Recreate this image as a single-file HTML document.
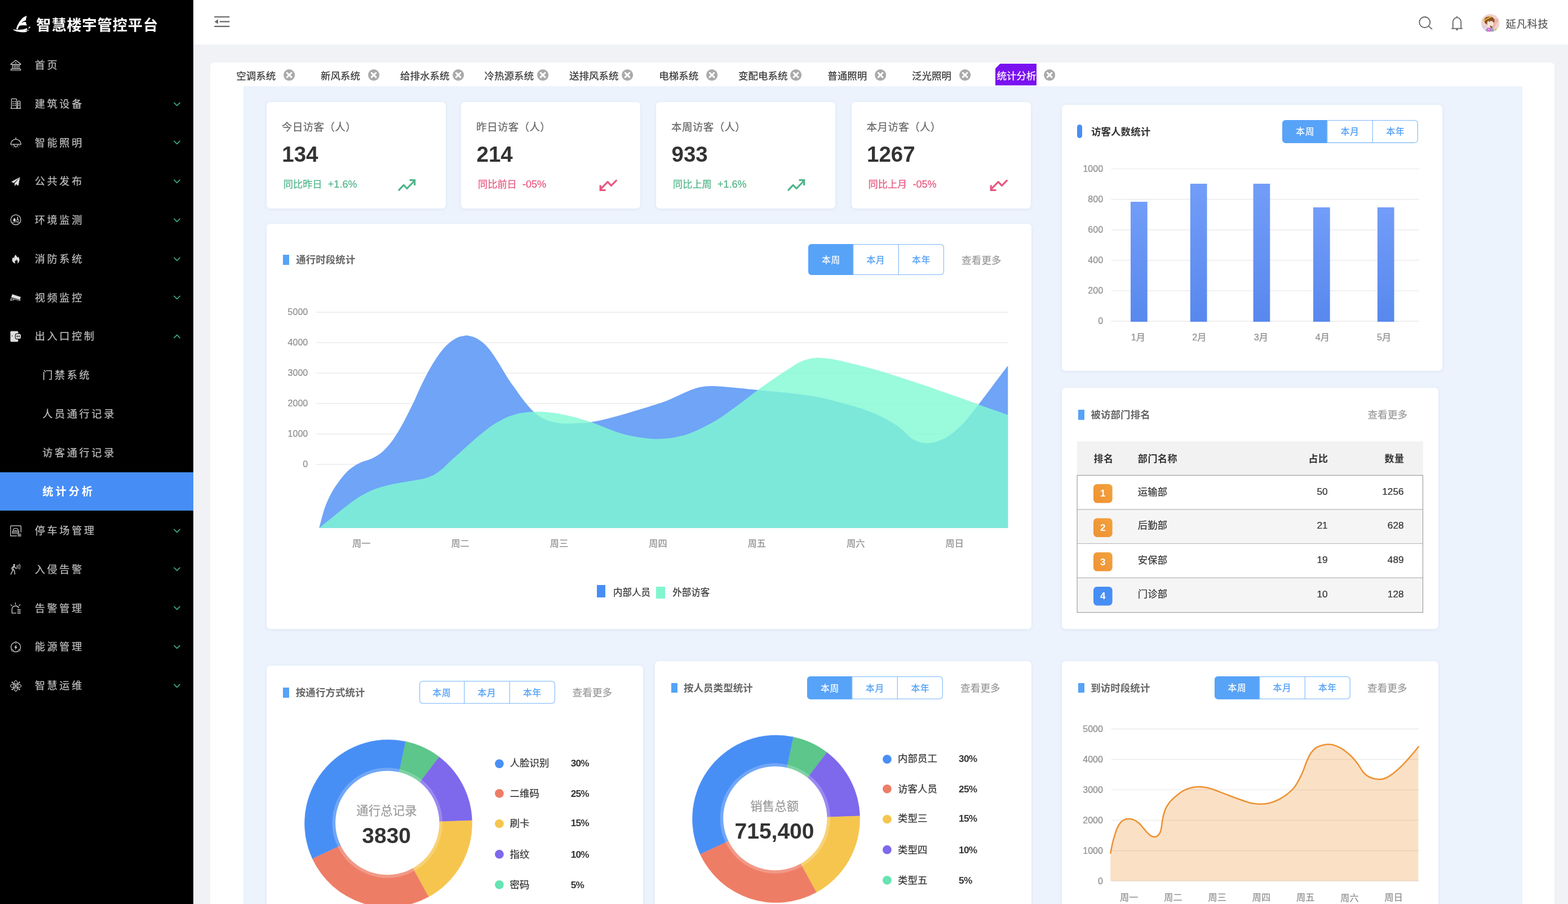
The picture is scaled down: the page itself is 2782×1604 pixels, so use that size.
<!DOCTYPE html>
<html lang="zh-CN"><head><meta charset="utf-8"><title>智慧楼宇管控平台</title><style>
*{margin:0;padding:0;box-sizing:content-box}
html,body{width:2782px;height:1604px;overflow:hidden;background:#f0f2f5;font-family:"Liberation Sans","Noto Sans CJK SC",sans-serif;}
body{position:relative}
.b{position:absolute;display:block}
.t{position:absolute;white-space:nowrap}
.n{-webkit-text-stroke:0.22px}
#sb{position:absolute;left:0;top:0;width:343px;height:1604px;background:#000}
.bg{border:1.300px solid #8ec2fb;border-radius:6px;box-sizing:border-box;display:flex;overflow:hidden;background:#fff}
.bt{flex:1;text-align:center;font-size:16.500px;color:#4a9bf6;border-left:1.300px solid #8ec2fb}
.bt:first-child{border-left:0}
.bt.on{background:#57a3f8;color:#fff}
</style></head><body>
<div id="sb">
<svg class="b" style="left:18px;top:22px" width="44" height="40" viewBox="0 0 44 40"><path d="M29.5,5.9C28.7,6.3 26.2,7.0 24.7,8.0C23.2,8.9 21.9,10.2 20.6,11.5C19.3,12.9 18.1,14.4 17.0,15.9C16.0,17.4 15.1,19.0 14.3,20.6C13.5,22.2 12.7,23.7 12.1,25.3C11.5,26.8 10.9,29.0 10.7,29.8L13.74,29.95C13.9,29.4 14.4,27.4 14.8,26.4C15.3,25.4 15.7,24.4 16.5,23.9C17.2,23.4 17.4,23.3 19.2,23.2C21.1,23.1 25.7,23.0 27.5,23.1C29.3,23.2 29.5,23.5 29.9,23.6C29.7,22.9 28.6,20.4 28.3,19.2C28.0,18.1 28.1,17.2 28.0,16.8L28.02,17.0L24.6,16.75L20.2,18.75L22,16.8L24.7,15.15L28.02,14.0C28.1,13.7 28.0,12.4 28.3,11.0C28.6,9.6 29.3,6.8 29.5,5.9Z" fill="#fff"/><path d="M5.1,30.2C6.1,30.3 8.6,30.7 11.0,30.8C13.3,30.8 16.9,30.7 19.2,30.5C21.5,30.3 23.1,30.0 24.7,29.7C26.3,29.3 28.0,28.6 28.9,28.3C29.7,28.0 29.9,28.1 30.1,28.0L30.2,32.4C30.1,32.7 30.1,33.6 29.7,34.1C29.2,34.5 29.0,34.8 27.5,35.0C26.0,35.2 22.9,35.3 20.6,35.2C18.3,35.0 15.8,34.8 13.7,34.3C11.7,33.9 9.7,33.1 8.2,32.4C6.8,31.8 5.6,30.7 5.1,30.4Z" fill="#fff"/><circle cx="28.500" cy="31.800" r=".800" fill="#000"/><ellipse cx="31.900" cy="31.600" rx="1.100" ry=".850" fill="#fff"/><ellipse cx="34.100" cy="26.900" rx="2.200" ry=".900" transform="rotate(-42 34.1 26.9)" fill="#fff"/></svg>
<div class="t" style="top:26.25px;font-size:26.2px;line-height:39.3px;color:#fff;font-weight:700;letter-spacing:0.9px;left:64.30px;">智慧楼宇管控平台</div>
<div class="t n" style="top:103.21px;font-size:18.2px;line-height:27.3px;color:#bfbfbf;letter-spacing:3.6px;left:61.80px;">首页</div>
<svg class="b" style="left:17.250px;top:104.50px" width="22" height="22" viewBox="-11 -11 22 22"><path d="M0-9.1 8.7-2.6v1H-8.7v-1z" fill="none" stroke="#d6d6d6" stroke-width="1.2" stroke-linejoin="round"/><path d="M0-6l1.6 2.300h-3.200z" fill="#d6d6d6"/><path d="M-5.800-1v6.800M-2.900-1v6.800M0-1v6.800M2.900-1v6.800M5.800-1v6.800" stroke="#d6d6d6" stroke-width="1.3"/><rect x="-8.800" y="6.400" width="17.600" height="2.600" rx="1" fill="none" stroke="#d6d6d6" stroke-width="1.1"/></svg>
<div class="t n" style="top:171.96px;font-size:18.2px;line-height:27.3px;color:#bfbfbf;letter-spacing:3.6px;left:61.80px;">建筑设备</div>
<svg class="b" style="left:17.250px;top:173.15px" width="22" height="22" viewBox="-11 -11 22 22"><path d="M-7.700 8.300V-7.300a1.300 1.300 0 0 1 1.300-1.300h6.600a1.300 1.300 0 0 1 1.300 1.300V8.300M3.400 8.300V-3.600a1 1 0 0 1 1-1h2.300a1 1 0 0 1 1 1V8.300M-9.300 8.400H9.300" fill="none" stroke="#d6d6d6" stroke-width="1.250"/><path d="M-5.900-4h2.300M-2.200-4h2.300M-5.900-.6h2.300M-2.200-.6h2.300M-5.900 2.800h2.300M-2.200 2.800h2.300M4.700-.6h1.700M4.700 2.800h1.700" stroke="#d6d6d6" stroke-width="1.500"/></svg>
<svg class="b" style="left:307.8px;top:180.6px" width="12" height="8" viewBox="0 0 12 8"><path d="M1 1.300l5 5 5-5" fill="none" stroke="#3dab7f" stroke-width="1.7" stroke-linecap="round" stroke-linejoin="round"/></svg>
<div class="t n" style="top:240.71px;font-size:18.2px;line-height:27.3px;color:#bfbfbf;letter-spacing:3.6px;left:61.80px;">智能照明</div>
<svg class="b" style="left:17.250px;top:242.10px" width="22" height="22" viewBox="-11 -11 22 22"><path d="M0.100-9.300v3.200M-9 3.200a9.100 9.100 0 0 1 18.200 0zM-3.600 3.400a3.700 3.700 0 0 0 7.400 0" fill="none" stroke="#d6d6d6" stroke-width="1.250" stroke-linejoin="round"/><path d="M-6.300 5.200l-.8.800M-3.600 7.400l-.5 1M0.100 8.200v1.200M3.800 7.400l.5 1M6.500 5.200l.8.800" stroke="#d6d6d6" stroke-width="1.100"/></svg>
<svg class="b" style="left:307.8px;top:249.3px" width="12" height="8" viewBox="0 0 12 8"><path d="M1 1.300l5 5 5-5" fill="none" stroke="#3dab7f" stroke-width="1.7" stroke-linecap="round" stroke-linejoin="round"/></svg>
<div class="t n" style="top:309.46px;font-size:18.2px;line-height:27.3px;color:#bfbfbf;letter-spacing:3.6px;left:61.80px;">公共发布</div>
<svg class="b" style="left:17.250px;top:310.95px" width="22" height="22" viewBox="-11 -11 22 22"><path d="M7.600-7.700-8.100.4l4.500 2.300zM7.600-7.700-2.300 3.600-1.800 8.500 0.600 4.700 4.500 7.700z" fill="#dedede"/></svg>
<svg class="b" style="left:307.8px;top:318.0px" width="12" height="8" viewBox="0 0 12 8"><path d="M1 1.300l5 5 5-5" fill="none" stroke="#3dab7f" stroke-width="1.7" stroke-linecap="round" stroke-linejoin="round"/></svg>
<div class="t n" style="top:378.21px;font-size:18.2px;line-height:27.3px;color:#bfbfbf;letter-spacing:3.6px;left:61.80px;">环境监测</div>
<svg class="b" style="left:17.250px;top:379.40px" width="22" height="22" viewBox="-11 -11 22 22"><circle r="8.900" fill="none" stroke="#d6d6d6" stroke-width="1.250"/><path d="M-2.400-3.400c1.500 1.900 2.300 3.100 2.300 4.200a2.300 2.300 0 0 1-4.600 0c0-1.100.8-2.300 2.300-4.200z" fill="#dedede"/><path d="M3.300-4.800v4.300" stroke="#d6d6d6" stroke-width="1.500" stroke-linecap="round"/><circle cx="3.400" cy="1.200" r="1.900" fill="none" stroke="#d6d6d6" stroke-width="1"/><path d="M-5.800 4.200c1.400.9 2.600.9 4 0s2.600-.9 4 0 2.600.9 4 0" fill="none" stroke="#d6d6d6" stroke-width="1"/></svg>
<svg class="b" style="left:307.8px;top:386.8px" width="12" height="8" viewBox="0 0 12 8"><path d="M1 1.300l5 5 5-5" fill="none" stroke="#3dab7f" stroke-width="1.7" stroke-linecap="round" stroke-linejoin="round"/></svg>
<div class="t n" style="top:446.96px;font-size:18.2px;line-height:27.3px;color:#bfbfbf;letter-spacing:3.6px;left:61.80px;">消防系统</div>
<svg class="b" style="left:17.250px;top:448.75px" width="22" height="22" viewBox="-11 -11 22 22"><path d="M-.2-8.200c.7 2.400 2.600 3.600 3.800 5.500.6-.7.700-1.500.6-2.400C5.700-3.400 6.500-1 6.500 1.300c0 3.400-2 5.800-4.400 6.500 1-1.100 1.500-2.300 1.300-3.600C3.200 2.700 2.100 1.700 1.400.2.600 1.600 1 2.600.6 3.600 0 3.100-.4 2.600-.6 1.800c-1 1.500-1.300 3.700.1 5.800-2.900-.5-6-2.900-6-6.300 0-2.300 1.100-3.800 2.300-5 .2 1 .5 1.500 1.100 2.100C-3 -4.300-1.800-6.400-.2-8.200z" fill="#dedede"/></svg>
<svg class="b" style="left:307.8px;top:455.5px" width="12" height="8" viewBox="0 0 12 8"><path d="M1 1.300l5 5 5-5" fill="none" stroke="#3dab7f" stroke-width="1.7" stroke-linecap="round" stroke-linejoin="round"/></svg>
<div class="t n" style="top:515.71px;font-size:18.2px;line-height:27.3px;color:#bfbfbf;letter-spacing:3.6px;left:61.80px;">视频监控</div>
<svg class="b" style="left:17.250px;top:516.90px" width="22" height="22" viewBox="-11 -11 22 22"><path d="M-6.300-5.900 8.900-.9 7.300 4.100-8.100-.5z" fill="#dedede"/><path d="M-8.400 1.100 7.300 5.400" stroke="#d6d6d6" stroke-width="1"/><path d="M-8.700 1.600v4.700M-8.700 4.300h4.600l.6-1.600" fill="none" stroke="#d6d6d6" stroke-width="1.100"/><path d="M7.500 3.600v2.200" stroke="#d6d6d6" stroke-width="1"/></svg>
<svg class="b" style="left:307.8px;top:524.3px" width="12" height="8" viewBox="0 0 12 8"><path d="M1 1.300l5 5 5-5" fill="none" stroke="#3dab7f" stroke-width="1.7" stroke-linecap="round" stroke-linejoin="round"/></svg>
<div class="t n" style="top:584.46px;font-size:18.2px;line-height:27.3px;color:#bfbfbf;letter-spacing:3.6px;left:61.80px;">出入口控制</div>
<svg class="b" style="left:17.250px;top:586.35px" width="22" height="22" viewBox="-11 -11 22 22"><rect x="-9.600" y="-9.400" width="13.900" height="18.900" rx="1.700" fill="#dedede"/><circle cx="-6.500" cy="-1" r=".8" fill="#000"/><rect x="-1.400" y="-5.600" width="11.400" height="10.800" rx="3.600" fill="#000"/><rect x="-.3" y="-4.500" width="9.200" height="8.600" rx="2.700" fill="#dedede"/><path d="M1.700-.2h5.200M2.800-2.100c-1.100 1.300-1.100 2.500 0 3.800M5.800-2.100c1.100 1.300 1.100 2.500 0 3.800" fill="none" stroke="#000" stroke-width=".9"/></svg>
<svg class="b" style="left:307.8px;top:593.0px" width="12" height="8" viewBox="0 0 12 8"><path d="M1 6.300l5-5 5 5" fill="none" stroke="#3dab7f" stroke-width="1.7" stroke-linecap="round" stroke-linejoin="round"/></svg>
<div class="t n" style="top:653.21px;font-size:18.2px;line-height:27.3px;color:#bfbfbf;letter-spacing:3.6px;left:75.20px;">门禁系统</div>
<div class="t n" style="top:721.96px;font-size:18.2px;line-height:27.3px;color:#bfbfbf;letter-spacing:3.6px;left:75.20px;">人员通行记录</div>
<div class="t n" style="top:790.71px;font-size:18.2px;line-height:27.3px;color:#bfbfbf;letter-spacing:3.6px;left:75.20px;">访客通行记录</div>
<div class="b" style="left:0px;top:838px;width:343px;height:68px;background:#468ef6;"></div>
<div class="t" style="top:859.07px;font-size:19.3px;line-height:28.95px;color:#fff;font-weight:700;letter-spacing:4.0px;left:75.20px;">统计分析</div>
<div class="t n" style="top:929.11px;font-size:18.2px;line-height:27.3px;color:#bfbfbf;letter-spacing:3.6px;left:61.80px;">停车场管理</div>
<svg class="b" style="left:17.250px;top:930.90px" width="22" height="22" viewBox="-11 -11 22 22"><path d="M9.200 2.800V-8.200a1 1 0 0 0-1-1H-8.200a1 1 0 0 0-1 1V8.800h11" fill="none" stroke="#d6d6d6" stroke-width="1.250"/><path d="M-5.200 1.300c0-4.800 2.200-5.800 5-5.800s5 1 5 5.800" fill="none" stroke="#d6d6d6" stroke-width="1.200"/><path d="M-5.800 1.200h11.200v2.700H-5.800z" fill="none" stroke="#d6d6d6" stroke-width="1.100"/><path d="M-3.600-.6h7" stroke="#d6d6d6" stroke-width="1"/><path d="M3.200 5.700h6.400M3.200 7.500h6.400M3.200 9.300h6.400" stroke="#d6d6d6" stroke-width="1"/></svg>
<svg class="b" style="left:307.8px;top:937.7px" width="12" height="8" viewBox="0 0 12 8"><path d="M1 1.300l5 5 5-5" fill="none" stroke="#3dab7f" stroke-width="1.7" stroke-linecap="round" stroke-linejoin="round"/></svg>
<div class="t n" style="top:997.86px;font-size:18.2px;line-height:27.3px;color:#bfbfbf;letter-spacing:3.6px;left:61.80px;">入侵告警</div>
<svg class="b" style="left:17.250px;top:999.45px" width="22" height="22" viewBox="-11 -11 22 22"><circle cx="-2.900" cy="-7.700" r="1.600" fill="#dedede"/><path d="M-3-5.600-5.300-.3l2.800 2.900.9 6.200M-5.300-.3-6.300 4-8.900 9M-3-5.400-6.400-3.400-7.400-.4M-2.800-5 -.6-2.200 1.500-1.400" fill="none" stroke="#d6d6d6" stroke-width="1.400" stroke-linejoin="round" stroke-linecap="round"/><path d="M1.700-6.800a3.400 3.400 0 0 1 0 4.600M3.900-8.200a5.600 5.600 0 0 1 0 7.400M6.100-9.400a7.700 7.700 0 0 1 0 9.800" fill="none" stroke="#d6d6d6" stroke-width="1.050"/></svg>
<svg class="b" style="left:307.8px;top:1006.4px" width="12" height="8" viewBox="0 0 12 8"><path d="M1 1.300l5 5 5-5" fill="none" stroke="#3dab7f" stroke-width="1.7" stroke-linecap="round" stroke-linejoin="round"/></svg>
<div class="t n" style="top:1066.61px;font-size:18.2px;line-height:27.3px;color:#bfbfbf;letter-spacing:3.6px;left:61.80px;">告警管理</div>
<svg class="b" style="left:17.250px;top:1068.00px" width="22" height="22" viewBox="-11 -11 22 22"><path d="M-6.700 8.600V2.200a6.100 6.100 0 0 1 11.800-2.200M-6.900 8.800h7.300" fill="none" stroke="#d6d6d6" stroke-width="1.300" stroke-linecap="round"/><path d="M-.6-9.300v2.800M-8.800-6.100l1.800 2M7.600-6.100l-1.800 2" stroke="#d6d6d6" stroke-width="1.200" stroke-linecap="round"/><path d="M2.800 3h5.900M2.800 5.900h5.900M2.800 8.800h5.900" stroke="#d6d6d6" stroke-width="1.400"/></svg>
<svg class="b" style="left:307.8px;top:1075.2px" width="12" height="8" viewBox="0 0 12 8"><path d="M1 1.300l5 5 5-5" fill="none" stroke="#3dab7f" stroke-width="1.7" stroke-linecap="round" stroke-linejoin="round"/></svg>
<div class="t n" style="top:1135.36px;font-size:18.2px;line-height:27.3px;color:#bfbfbf;letter-spacing:3.6px;left:61.80px;">能源管理</div>
<svg class="b" style="left:17.250px;top:1137.45px" width="22" height="22" viewBox="-11 -11 22 22"><circle r="8.500" fill="none" stroke="#d6d6d6" stroke-width="1.250"/><path d="M1.200-4.500-2.700 1.200h2.400l-1 4.300 4-5.800H.4z" fill="#dedede"/><circle cx="0" cy="-8.200" r="1.500" fill="#000" stroke="#d6d6d6" stroke-width="1"/><circle cx="-6.100" cy="5.800" r="1.500" fill="#000" stroke="#d6d6d6" stroke-width="1"/><circle cx="6.100" cy="5.800" r="1.500" fill="#000" stroke="#d6d6d6" stroke-width="1"/></svg>
<svg class="b" style="left:307.8px;top:1144.0px" width="12" height="8" viewBox="0 0 12 8"><path d="M1 1.300l5 5 5-5" fill="none" stroke="#3dab7f" stroke-width="1.7" stroke-linecap="round" stroke-linejoin="round"/></svg>
<div class="t n" style="top:1204.11px;font-size:18.2px;line-height:27.3px;color:#bfbfbf;letter-spacing:3.6px;left:61.80px;">智慧运维</div>
<svg class="b" style="left:17.250px;top:1206.40px" width="22" height="22" viewBox="-11 -11 22 22"><g fill="none" stroke="#d6d6d6" stroke-width="1.050"><ellipse rx="3.800" ry="9.600"/><ellipse rx="9.600" ry="3.800"/><rect x="-3.800" y="-3.800" width="7.600" height="7.600" stroke-width=".5"/></g><circle r="1.400" fill="none" stroke="#d6d6d6" stroke-width="1"/><circle cx="-6.200" cy="-6.200" r="1.300" fill="#d6d6d6"/><circle cx="6.200" cy="-6.200" r="1.300" fill="#d6d6d6"/><circle cx="-6.200" cy="6.200" r="1.300" fill="#d6d6d6"/><circle cx="6.200" cy="6.200" r="1.300" fill="#d6d6d6"/><path d="M-5.300-5.300 5.300 5.300M5.300-5.300-5.300 5.300" stroke="#d6d6d6" stroke-width=".8"/></svg>
<svg class="b" style="left:307.8px;top:1212.7px" width="12" height="8" viewBox="0 0 12 8"><path d="M1 1.300l5 5 5-5" fill="none" stroke="#3dab7f" stroke-width="1.7" stroke-linecap="round" stroke-linejoin="round"/></svg>
</div>
<div class="b" style="left:343px;top:0px;width:2439px;height:79px;background:#fff;"></div>
<svg class="b" style="left:380px;top:28px" width="28" height="21" viewBox="0 0 28 21"><path d="M1 2h25.400M10.500 10.400h15.900M1 18.800h25.400" stroke="#666" stroke-width="2.2" fill="none" stroke-linecap="round"/><path d="M0.600 10.400l6.300-4.100v8.200z" fill="#666"/></svg>
<svg class="b" style="left:2514px;top:26px" width="30" height="30" viewBox="0 0 30 30"><circle cx="13.800" cy="13.500" r="9.500" fill="none" stroke="#666" stroke-width="1.800"/><path d="M20.700 20.300l5.700 5.100" stroke="#666" stroke-width="1.800" stroke-linecap="round"/></svg>
<svg class="b" style="left:2572px;top:26px" width="26" height="30" viewBox="0 0 26 30"><path d="M13 3.400v1.600M5.800 24.400V13.400a7.200 8.200 0 0 1 14.400 0v11M3.800 24.600h18.400" fill="none" stroke="#666" stroke-width="1.800" stroke-linecap="round" stroke-linejoin="round"/><circle cx="13" cy="26.400" r="1.600" fill="#666"/></svg>
<svg class="b" style="left:2627.900px;top:24.600px" width="32.400" height="31.800" viewBox="0 0 32 31.400" preserveAspectRatio="none"><defs><clipPath id="av"><ellipse cx="16" cy="15.700" rx="16" ry="15.700"/></clipPath></defs><g clip-path="url(#av)"><rect width="32" height="32" fill="#f2d0cd"/><path d="M21.500 7.600 31 9.200 22.500 24.500 19.600 27.500 17.500 20z" fill="#edb6a9"/><path d="M22.500 24.500 32 21v11H20z" fill="#f3cfcb"/><path d="M5.300 11.500C4.800 7.800 8.500 4.200 13 4.400c3.600-.6 7.600.800 9.400 4 1.500 2.200 1.300 5.200-.4 7.200l-3.600-2.800-4.600 1.400-2 4.400-1.200-.4c-2.600-.700-5-3.400-5.300-6.700z" fill="#8a5128"/><path d="M10.800 13.600c.8-1.700 3-2.600 5-2.400 2.500.100 4.800 1.500 5.600 3.700.5 1.800.1 3.800-1.300 5-1 1.100-2.600 1.600-4 1.500l-.6 3.400-4.800.4.600-5.600c-.9-1.700-1.300-4-.5-6z" fill="#f4e4d4"/><path d="M13.200 10.600c1.600-1 3.800-1.300 5.600-.6 1.300.500 2.400 1.600 2.800 3l-2.600-.8-3.200.2-2.200 1.800z" fill="#8a5128"/><path d="M15.800 19.800c1.400 1 3.400 2.400 4.400 4.200l-1.200 1.400-3.600-3.400z" fill="#7a4a2a"/><path d="M3 11.800l1.800-2.600 1.600 1 1.400-2.600 1.800.800 1.600-2.600 1.800.600 1.600-2.400 1.600.800 1-2.200 1.400 2.400-2 1.600-1.800-.2-1.400 2-2-.2-1.600 2.200-1.800-.2-1.800 2.400z" fill="#e7b930"/><path d="M7 31.400c.4-3.400 2.400-6.400 5.800-7.200l5.400-.6c2 .400 3.400 2 3.800 4.200l.4 3.600z" fill="#8ea5c6"/><path d="M9.800 24.400l6.200-.6.400 6.800-5.800.8z" fill="#e05bd2"/><path d="M11.400 26l3.400-.4.200 2.400-3.200.4z" fill="#f2a6ec"/><path d="M1.600 22.600c.2-2 1.800-3.400 3.800-3.200 1.600.2 2.800 1.600 2.800 3.200l-.4 3-5.400-.4z" fill="#dfe3f1"/><path d="M2.400 21.400h5M2.600 23.200h5" stroke="#9bb0d6" stroke-width=".700"/><path d="M23 28.400c.2-1.600 1-2.800 2.400-3.200l1.800.6c.2 1.200-.2 2.400-1 3.200z" fill="#b5cc62"/></g></svg>
<div class="t n" style="top:29.48px;font-size:18.3px;line-height:27.45px;color:#555;letter-spacing:0.75px;left:2671.40px;">延凡科技</div>
<div class="b" style="left:373px;top:111px;width:2385px;height:1500px;background:#fff;border-radius:7px 7px 0 0;"></div>
<div class="t n" style="top:121.57px;font-size:17.5px;line-height:26.25px;color:#333;left:419.20px;">空调系统</div>
<svg class="b" style="left:503.3px;top:122.900px" width="20.200" height="20.200" viewBox="0 0 20 20"><circle cx="10" cy="10" r="10" fill="#aaaaaa"/><path d="M6.200 6.200l7.600 7.600M13.800 6.200l-7.600 7.600" stroke="#fff" stroke-width="3" stroke-linecap="round"/></svg>
<div class="t n" style="top:121.57px;font-size:17.5px;line-height:26.25px;color:#333;left:568.90px;">新风系统</div>
<svg class="b" style="left:652.7px;top:122.900px" width="20.200" height="20.200" viewBox="0 0 20 20"><circle cx="10" cy="10" r="10" fill="#aaaaaa"/><path d="M6.200 6.200l7.600 7.600M13.800 6.200l-7.600 7.600" stroke="#fff" stroke-width="3" stroke-linecap="round"/></svg>
<div class="t n" style="top:121.57px;font-size:17.5px;line-height:26.25px;color:#333;left:710.00px;">给排水系统</div>
<svg class="b" style="left:802.9px;top:122.900px" width="20.200" height="20.200" viewBox="0 0 20 20"><circle cx="10" cy="10" r="10" fill="#aaaaaa"/><path d="M6.200 6.200l7.600 7.600M13.800 6.200l-7.600 7.600" stroke="#fff" stroke-width="3" stroke-linecap="round"/></svg>
<div class="t n" style="top:121.57px;font-size:17.5px;line-height:26.25px;color:#333;left:859.50px;">冷热源系统</div>
<svg class="b" style="left:952.8px;top:122.900px" width="20.200" height="20.200" viewBox="0 0 20 20"><circle cx="10" cy="10" r="10" fill="#aaaaaa"/><path d="M6.200 6.200l7.600 7.600M13.800 6.200l-7.600 7.600" stroke="#fff" stroke-width="3" stroke-linecap="round"/></svg>
<div class="t n" style="top:121.57px;font-size:17.5px;line-height:26.25px;color:#333;left:1010.00px;">送排风系统</div>
<svg class="b" style="left:1102.7px;top:122.900px" width="20.200" height="20.200" viewBox="0 0 20 20"><circle cx="10" cy="10" r="10" fill="#aaaaaa"/><path d="M6.200 6.200l7.600 7.600M13.800 6.200l-7.600 7.600" stroke="#fff" stroke-width="3" stroke-linecap="round"/></svg>
<div class="t n" style="top:121.57px;font-size:17.5px;line-height:26.25px;color:#333;left:1169.20px;">电梯系统</div>
<svg class="b" style="left:1252.6px;top:122.900px" width="20.200" height="20.200" viewBox="0 0 20 20"><circle cx="10" cy="10" r="10" fill="#aaaaaa"/><path d="M6.200 6.200l7.600 7.600M13.800 6.200l-7.600 7.600" stroke="#fff" stroke-width="3" stroke-linecap="round"/></svg>
<div class="t n" style="top:121.57px;font-size:17.5px;line-height:26.25px;color:#333;left:1310.00px;">变配电系统</div>
<svg class="b" style="left:1402.0px;top:122.900px" width="20.200" height="20.200" viewBox="0 0 20 20"><circle cx="10" cy="10" r="10" fill="#aaaaaa"/><path d="M6.200 6.200l7.600 7.600M13.800 6.200l-7.600 7.600" stroke="#fff" stroke-width="3" stroke-linecap="round"/></svg>
<div class="t n" style="top:121.57px;font-size:17.5px;line-height:26.25px;color:#333;left:1468.20px;">普通照明</div>
<svg class="b" style="left:1551.9px;top:122.900px" width="20.200" height="20.200" viewBox="0 0 20 20"><circle cx="10" cy="10" r="10" fill="#aaaaaa"/><path d="M6.200 6.200l7.600 7.600M13.800 6.200l-7.600 7.600" stroke="#fff" stroke-width="3" stroke-linecap="round"/></svg>
<div class="t n" style="top:121.57px;font-size:17.5px;line-height:26.25px;color:#333;left:1617.90px;">泛光照明</div>
<svg class="b" style="left:1701.9px;top:122.900px" width="20.200" height="20.200" viewBox="0 0 20 20"><circle cx="10" cy="10" r="10" fill="#aaaaaa"/><path d="M6.200 6.200l7.600 7.600M13.800 6.200l-7.600 7.600" stroke="#fff" stroke-width="3" stroke-linecap="round"/></svg>
<svg class="b" style="left:1766.2px;top:113.300px" width="73" height="39" viewBox="0 0 73 39"><path d="M8.500 0H73V38.500H0V8.500z" fill="#7a12f0"/></svg>
<div class="t n" style="top:121.57px;font-size:17.5px;line-height:26.25px;color:#fff;left:1768.40px;">统计分析</div>
<svg class="b" style="left:1852.0px;top:122.900px" width="20.200" height="20.200" viewBox="0 0 20 20"><circle cx="10" cy="10" r="10" fill="#aaaaaa"/><path d="M6.200 6.200l7.600 7.600M13.800 6.200l-7.600 7.600" stroke="#fff" stroke-width="3" stroke-linecap="round"/></svg>
<div class="b" style="left:432px;top:153px;width:2269px;height:1460px;background:#ecf3fd;"></div>
<div class="b" style="left:472.8px;top:180.5px;width:318.3px;height:189px;background:#fff;border-radius:6.600px;box-shadow:0 1px 6px rgba(70,90,150,0.085);"></div>
<div class="t n" style="top:212.05px;font-size:18.6px;line-height:27.9px;color:#666;letter-spacing:0.3px;left:499.80px;">今日访客（人）</div>
<div class="t" style="top:244.73px;font-size:38.5px;line-height:57.75px;color:#333;font-weight:700;left:500.30px;">134</div>
<div class="t n" style="top:315.00px;font-size:17.2px;line-height:25.8px;color:#4fb48a;left:502.80px;">同比昨日<span style="margin-left:10.3px;font-size:18px">+1.6%</span></div>
<svg class="b" style="left:703.8px;top:315px" width="38" height="28" viewBox="0 0 38 28"><path d="M3.800 22.200l8.400-8.800 5.900 6.100 12.600-13" fill="none" stroke="#4fb48a" stroke-width="3.200" stroke-linecap="round" stroke-linejoin="round"/><path d="M22.600 4.700h9.100v9.300" fill="none" stroke="#4fb48a" stroke-width="3.200" stroke-linejoin="miter"/></svg>
<div class="b" style="left:818px;top:180.5px;width:318.3px;height:189px;background:#fff;border-radius:6.600px;box-shadow:0 1px 6px rgba(70,90,150,0.085);"></div>
<div class="t n" style="top:212.05px;font-size:18.6px;line-height:27.9px;color:#666;letter-spacing:0.3px;left:845.00px;">昨日访客（人）</div>
<div class="t" style="top:244.73px;font-size:38.5px;line-height:57.75px;color:#333;font-weight:700;left:845.50px;">214</div>
<div class="t n" style="top:315.00px;font-size:17.2px;line-height:25.8px;color:#e8557f;left:848.00px;">同比前日<span style="margin-left:10.3px;font-size:18px">-05%</span></div>
<svg class="b" style="left:1061.0px;top:315px" width="38" height="28" viewBox="0 0 38 28"><path d="M32.400 5.400l-9 9-6.200-6.800-12.400 12.800" fill="none" stroke="#e8557f" stroke-width="3.200" stroke-linecap="round" stroke-linejoin="round"/><path d="M4.200 13.600v8.800h9.200" fill="none" stroke="#e8557f" stroke-width="3.200" stroke-linejoin="miter"/></svg>
<div class="b" style="left:1164px;top:180.5px;width:318.3px;height:189px;background:#fff;border-radius:6.600px;box-shadow:0 1px 6px rgba(70,90,150,0.085);"></div>
<div class="t n" style="top:212.05px;font-size:18.6px;line-height:27.9px;color:#666;letter-spacing:0.3px;left:1191.00px;">本周访客（人）</div>
<div class="t" style="top:244.73px;font-size:38.5px;line-height:57.75px;color:#333;font-weight:700;left:1191.50px;">933</div>
<div class="t n" style="top:315.00px;font-size:17.2px;line-height:25.8px;color:#4fb48a;left:1194.00px;">同比上周<span style="margin-left:10.3px;font-size:18px">+1.6%</span></div>
<svg class="b" style="left:1395.0px;top:315px" width="38" height="28" viewBox="0 0 38 28"><path d="M3.800 22.200l8.400-8.800 5.900 6.100 12.600-13" fill="none" stroke="#4fb48a" stroke-width="3.200" stroke-linecap="round" stroke-linejoin="round"/><path d="M22.600 4.700h9.100v9.300" fill="none" stroke="#4fb48a" stroke-width="3.200" stroke-linejoin="miter"/></svg>
<div class="b" style="left:1510.5px;top:180.5px;width:318.3px;height:189px;background:#fff;border-radius:6.600px;box-shadow:0 1px 6px rgba(70,90,150,0.085);"></div>
<div class="t n" style="top:212.05px;font-size:18.6px;line-height:27.9px;color:#666;letter-spacing:0.3px;left:1537.50px;">本月访客（人）</div>
<div class="t" style="top:244.73px;font-size:38.5px;line-height:57.75px;color:#333;font-weight:700;left:1538.00px;">1267</div>
<div class="t n" style="top:315.00px;font-size:17.2px;line-height:25.8px;color:#e8557f;left:1540.50px;">同比上月<span style="margin-left:10.3px;font-size:18px">-05%</span></div>
<svg class="b" style="left:1753.5px;top:315px" width="38" height="28" viewBox="0 0 38 28"><path d="M32.400 5.400l-9 9-6.200-6.800-12.400 12.800" fill="none" stroke="#e8557f" stroke-width="3.200" stroke-linecap="round" stroke-linejoin="round"/><path d="M4.200 13.600v8.800h9.200" fill="none" stroke="#e8557f" stroke-width="3.200" stroke-linejoin="miter"/></svg>
<div class="b" style="left:473px;top:396.5px;width:1357px;height:719.5px;background:#fff;border-radius:6.600px;box-shadow:0 1px 6px rgba(70,90,150,0.085);"></div>
<div class="b" style="left:502px;top:452.0px;width:11.2px;height:17.6px;background:#55a3f8;"></div>
<div class="t" style="top:448.40px;font-size:17.4px;line-height:26.1px;color:#666;font-weight:700;letter-spacing:0.15px;left:525.20px;">通行时段统计</div>
<svg class="b" style="left:1432.6px;top:432.2px" width="243.0" height="57.0" viewBox="-1 -1 243.0 57.0"><rect x="0.65" y="0.65" width="239.7" height="53.7" rx="5.55" fill="#fff" stroke="#8ec2fb" stroke-width="1.3"/><path d="M79.8 0H6.2A6.2 6.2 0 0 0 0 6.2V48.8A6.2 6.2 0 0 0 6.2 55.0H79.8Z" fill="#57a3f8"/><path d="M79.8 0V55.0M160.3 0V55.0" stroke="#8ec2fb" stroke-width="1.3"/></svg>
<div class="t n" style="top:450.32px;font-size:15.7px;line-height:23.55px;color:#fff;letter-spacing:0.9px;left:1074.20px;width:800px;text-align:center;text-indent:0.9px;">本周</div>
<div class="t n" style="top:450.32px;font-size:15.7px;line-height:23.55px;color:#4a9bf6;letter-spacing:0.9px;left:1153.65px;width:800px;text-align:center;text-indent:0.9px;">本月</div>
<div class="t n" style="top:450.32px;font-size:15.7px;line-height:23.55px;color:#4a9bf6;letter-spacing:0.9px;left:1234.25px;width:800px;text-align:center;text-indent:0.9px;">本年</div>
<div class="t n" style="top:449.18px;font-size:17.5px;line-height:26.25px;color:#999;letter-spacing:0.2px;left:1706.00px;">查看更多</div>
<svg class="b" style="left:473px;top:396px" width="1357" height="720" viewBox="473 396 1357 720"><path d="M560.600 554.00H1788.700" stroke="#f0f0f0" stroke-width="1.800"/><path d="M560.600 608.00H1788.700" stroke="#f0f0f0" stroke-width="1.800"/><path d="M560.600 662.00H1788.700" stroke="#f0f0f0" stroke-width="1.800"/><path d="M560.600 716.00H1788.700" stroke="#f0f0f0" stroke-width="1.800"/><path d="M560.600 770.00H1788.700" stroke="#f0f0f0" stroke-width="1.800"/><path d="M560.600 824.00H1788.700" stroke="#f0f0f0" stroke-width="1.800"/><path d="M566.2,936.7C567.9,930.8 572.3,912.1 576.1,901.4C579.9,890.7 584.8,880.7 589.1,872.7C593.5,864.7 597.9,859.1 602.2,853.2C606.6,847.3 610.9,841.9 615.2,837.5C619.6,833.1 623.9,830.0 628.3,827.1C632.6,824.2 636.9,821.9 641.3,820.0C645.6,818.1 650.0,817.5 654.4,815.8C658.8,814.1 663.0,812.3 667.4,809.6C671.8,806.9 676.1,803.8 680.5,799.7C684.9,795.7 689.1,791.0 693.5,785.3C697.9,779.6 702.2,772.9 706.6,765.7C711.0,758.5 715.2,750.5 719.6,742.2C724.0,733.9 728.4,725.2 732.7,716.1C737.1,707.0 741.4,696.5 745.7,687.4C750.1,678.3 754.4,669.3 758.8,661.3C763.1,653.3 767.4,645.9 771.8,639.2C776.1,632.5 780.5,626.1 784.9,620.9C789.2,615.7 793.5,611.4 797.9,607.8C802.2,604.2 806.6,601.2 811.0,599.2C815.4,597.2 820.5,596.4 824.0,595.8C827.5,595.2 828.4,595.1 831.9,595.8C835.4,596.5 840.5,597.8 844.9,600.0C849.2,602.2 853.6,605.2 858.0,609.1C862.4,613.0 866.7,617.8 871.0,623.5C875.3,629.2 878.8,634.8 884.0,643.1C889.2,651.4 897.1,665.1 902.3,673.1C907.5,681.1 911.0,685.3 915.4,691.4C919.8,697.5 924.0,704.0 928.4,709.6C932.8,715.2 937.1,720.7 941.5,725.3C945.9,729.9 950.1,733.8 954.5,737.0C958.9,740.2 963.2,742.3 967.6,744.3C972.0,746.3 976.2,747.7 980.6,748.8C985.0,749.9 989.4,750.5 993.7,750.9C998.1,751.3 1000.2,751.4 1006.7,751.4C1013.2,751.4 1025.8,751.0 1032.8,750.6C1039.8,750.2 1042.0,750.0 1048.5,749.0C1055.0,748.0 1063.8,746.2 1072.0,744.3C1080.2,742.4 1089.3,739.9 1098.0,737.5C1106.7,735.1 1115.4,732.3 1124.1,729.7C1132.8,727.1 1142.5,724.2 1150.2,721.9C1157.9,719.5 1164.5,717.4 1170.0,715.6C1175.5,713.8 1178.7,712.6 1183.0,710.9C1187.3,709.2 1191.8,707.2 1196.1,705.2C1200.4,703.2 1204.8,701.2 1209.1,699.2C1213.4,697.2 1217.8,695.1 1222.2,693.4C1226.6,691.6 1230.9,689.9 1235.2,688.7C1239.5,687.5 1243.3,686.7 1248.3,686.1C1253.3,685.5 1258.8,685.1 1265.3,685.1C1271.8,685.1 1279.4,685.8 1287.4,686.4C1295.4,687.0 1303.9,687.8 1313.5,688.7C1323.1,689.7 1334.0,691.0 1344.9,692.1C1355.8,693.2 1368.8,694.3 1378.8,695.3C1388.8,696.3 1396.2,696.9 1404.9,697.9C1413.6,698.9 1422.3,700.0 1431.0,701.3C1439.7,702.6 1448.4,703.9 1457.1,705.7C1465.8,707.5 1474.5,709.9 1483.2,712.2C1491.9,714.5 1500.6,716.8 1509.3,719.3C1518.0,721.8 1526.7,724.2 1535.4,727.4C1544.1,730.6 1552.8,734.1 1561.5,738.3C1570.2,742.5 1581.1,748.7 1587.6,752.7C1594.1,756.7 1596.2,758.6 1600.6,762.3C1604.9,766.0 1609.3,771.5 1613.7,774.9C1618.1,778.3 1622.4,780.8 1626.7,782.7C1631.0,784.6 1636.3,785.5 1639.8,786.1C1643.3,786.7 1644.1,786.6 1647.6,786.3C1651.1,785.9 1655.4,785.7 1660.6,784.0C1665.8,782.3 1673.7,779.0 1678.9,776.2C1684.1,773.4 1687.7,770.5 1692.0,767.0C1696.3,763.5 1700.7,759.6 1705.0,755.3C1709.3,750.9 1712.8,747.2 1718.0,740.9C1723.2,734.6 1729.8,726.0 1736.3,717.5C1742.8,709.0 1751.5,697.5 1757.2,690.0C1762.9,682.5 1765.0,679.5 1770.2,672.6C1775.4,665.7 1785.3,652.8 1788.3,648.8L1788.300,936.700L566.200,936.700Z" fill="#5b97f5" fill-opacity="0.880"/><path d="M566.2,936.7C570.0,933.7 580.9,924.9 589.1,918.4C597.3,911.9 606.5,904.0 615.2,897.5C623.9,891.0 632.6,884.4 641.3,879.3C650.0,874.2 658.7,870.3 667.4,867.0C676.1,863.7 684.8,861.7 693.5,859.7C702.2,857.7 710.9,856.5 719.6,855.0C728.3,853.5 739.2,851.9 745.7,850.6C752.2,849.3 754.4,848.7 758.8,847.2C763.1,845.7 767.4,844.0 771.8,841.4C776.1,838.8 780.5,835.5 784.9,831.8C789.2,828.1 793.5,823.2 797.9,819.2C802.2,815.2 806.6,811.4 811.0,807.5C815.4,803.6 819.6,799.6 824.0,795.7C828.4,791.8 832.8,787.8 837.1,784.0C841.5,780.2 845.8,776.4 850.1,772.8C854.5,769.2 858.9,765.6 863.2,762.3C867.6,758.9 871.9,755.5 876.2,752.7C880.6,749.9 884.9,747.7 889.3,745.4C893.6,743.1 897.9,740.9 902.3,739.1C906.6,737.4 911.0,736.0 915.4,734.9C919.8,733.8 924.0,732.9 928.4,732.3C932.8,731.6 937.1,731.3 941.5,731.0C945.9,730.7 950.1,730.5 954.5,730.5C958.9,730.5 961.1,730.4 967.6,731.0C974.1,731.6 985.0,732.9 993.7,734.4C1002.4,735.9 1011.1,737.9 1019.8,740.2C1028.5,742.5 1037.2,745.0 1045.9,748.0C1054.6,751.0 1063.3,754.6 1072.0,757.9C1080.7,761.2 1089.3,765.1 1098.0,767.8C1106.7,770.5 1115.4,772.6 1124.1,774.3C1132.8,776.0 1142.5,777.2 1150.2,778.0C1157.9,778.8 1162.3,779.1 1170.0,778.8C1177.7,778.5 1187.4,777.7 1196.1,776.2C1204.8,774.7 1213.5,772.7 1222.2,769.6C1230.9,766.5 1239.6,762.2 1248.3,757.9C1257.0,753.6 1265.7,749.0 1274.4,743.6C1283.1,738.2 1291.8,731.6 1300.5,725.3C1309.2,719.0 1317.9,712.2 1326.6,705.7C1335.3,699.2 1344.0,692.4 1352.7,686.1C1361.4,679.8 1370.1,673.8 1378.8,667.9C1387.5,662.0 1398.4,655.0 1404.9,650.9C1411.4,646.8 1413.6,645.3 1417.9,643.1C1422.2,640.9 1426.7,639.2 1431.0,637.9C1435.3,636.6 1439.7,635.7 1444.0,635.2C1448.3,634.7 1450.6,634.5 1457.1,635.0C1463.6,635.5 1474.5,636.8 1483.2,638.4C1491.9,640.0 1500.6,642.3 1509.3,644.4C1518.0,646.5 1526.7,648.6 1535.4,650.9C1544.1,653.2 1552.8,655.6 1561.5,658.2C1570.2,660.8 1578.9,663.8 1587.6,666.6C1596.3,669.4 1605.0,672.1 1613.7,674.9C1622.4,677.7 1631.1,680.5 1639.8,683.5C1648.5,686.5 1657.2,689.7 1665.9,692.7C1674.6,695.8 1683.3,698.8 1692.0,701.8C1700.7,704.8 1709.3,707.7 1718.0,710.9C1726.7,714.1 1735.4,717.7 1744.1,720.8C1752.8,723.9 1762.8,727.2 1770.2,729.7C1777.6,732.2 1785.3,735.0 1788.3,736.0L1788.300,936.700L566.200,936.700Z" fill="#80f9d3" fill-opacity="0.800"/></svg>
<div class="t n" style="top:541.02px;font-size:16.1px;line-height:24.15px;color:#8f8f8f;right:2235.70px;">5000</div>
<div class="t n" style="top:595.05px;font-size:16.1px;line-height:24.15px;color:#8f8f8f;right:2235.70px;">4000</div>
<div class="t n" style="top:649.09px;font-size:16.1px;line-height:24.15px;color:#8f8f8f;right:2235.70px;">3000</div>
<div class="t n" style="top:703.12px;font-size:16.1px;line-height:24.15px;color:#8f8f8f;right:2235.70px;">2000</div>
<div class="t n" style="top:757.14px;font-size:16.1px;line-height:24.15px;color:#8f8f8f;right:2235.70px;">1000</div>
<div class="t n" style="top:811.17px;font-size:16.1px;line-height:24.15px;color:#8f8f8f;right:2235.70px;">0</div>
<div class="t n" style="top:951.65px;font-size:16.2px;line-height:24.3px;color:#8f8f8f;left:241.20px;width:800px;text-align:center;">周一</div>
<div class="t n" style="top:951.65px;font-size:16.2px;line-height:24.3px;color:#8f8f8f;left:416.62px;width:800px;text-align:center;">周二</div>
<div class="t n" style="top:951.65px;font-size:16.2px;line-height:24.3px;color:#8f8f8f;left:592.04px;width:800px;text-align:center;">周三</div>
<div class="t n" style="top:951.65px;font-size:16.2px;line-height:24.3px;color:#8f8f8f;left:767.46px;width:800px;text-align:center;">周四</div>
<div class="t n" style="top:951.65px;font-size:16.2px;line-height:24.3px;color:#8f8f8f;left:942.88px;width:800px;text-align:center;">周五</div>
<div class="t n" style="top:951.65px;font-size:16.2px;line-height:24.3px;color:#8f8f8f;left:1118.30px;width:800px;text-align:center;">周六</div>
<div class="t n" style="top:951.65px;font-size:16.2px;line-height:24.3px;color:#8f8f8f;left:1293.72px;width:800px;text-align:center;">周日</div>
<div class="b" style="left:1058.5px;top:1037.7px;width:15.8px;height:22.2px;background:#468ef6;"></div>
<div class="t n" style="top:1039.22px;font-size:16.5px;line-height:24.75px;color:#333;left:1088.00px;">内部人员</div>
<div class="b" style="left:1164px;top:1040.8px;width:16.2px;height:21px;background:#7ff6ce;"></div>
<div class="t n" style="top:1039.22px;font-size:16.5px;line-height:24.75px;color:#333;left:1193.20px;">外部访客</div>
<div class="b" style="left:1884px;top:186px;width:675px;height:472px;background:#fff;border-radius:6.600px;box-shadow:0 1px 6px rgba(70,90,150,0.085);"></div>
<div class="b" style="left:1910.6px;top:220.89999999999998px;width:9.3px;height:24.6px;background:#4a8ef5;border-radius:5px;"></div>
<div class="t" style="top:220.80px;font-size:17.4px;line-height:26.1px;color:#333;font-weight:700;letter-spacing:0.15px;left:1936.00px;">访客人数统计</div>
<svg class="b" style="left:2273.9px;top:211.9px" width="243.0" height="42.9" viewBox="-1 -1 243.0 42.9"><rect x="0.65" y="0.65" width="239.7" height="39.6" rx="5.55" fill="#fff" stroke="#8ec2fb" stroke-width="1.3"/><path d="M79.8 0H6.2A6.2 6.2 0 0 0 0 6.2V34.699999999999996A6.2 6.2 0 0 0 6.2 40.9H79.8Z" fill="#57a3f8"/><path d="M79.8 0V40.9M160.3 0V40.9" stroke="#8ec2fb" stroke-width="1.3"/></svg>
<div class="t n" style="top:221.97px;font-size:15.7px;line-height:23.55px;color:#fff;letter-spacing:0.9px;left:1915.50px;width:800px;text-align:center;text-indent:0.9px;">本周</div>
<div class="t n" style="top:221.97px;font-size:15.7px;line-height:23.55px;color:#4a9bf6;letter-spacing:0.9px;left:1994.95px;width:800px;text-align:center;text-indent:0.9px;">本月</div>
<div class="t n" style="top:221.97px;font-size:15.7px;line-height:23.55px;color:#4a9bf6;letter-spacing:0.9px;left:2075.55px;width:800px;text-align:center;text-indent:0.9px;">本年</div>
<svg class="b" style="left:1884px;top:186px" width="675" height="472" viewBox="1884 186 675 472"><defs><linearGradient id="bg" x1="0" y1="0" x2="0" y2="1"><stop offset="0" stop-color="#729df8"/><stop offset="1" stop-color="#5888ee"/></linearGradient></defs><path d="M1971.500 299.60H2518" stroke="#efefef" stroke-width="1.900"/><path d="M1971.500 353.68H2518" stroke="#efefef" stroke-width="1.900"/><path d="M1971.500 407.76H2518" stroke="#efefef" stroke-width="1.900"/><path d="M1971.500 461.84H2518" stroke="#efefef" stroke-width="1.900"/><path d="M1971.500 515.92H2518" stroke="#efefef" stroke-width="1.900"/><path d="M1971.500 570.00H2518" stroke="#efefef" stroke-width="1.900"/><rect x="2006" y="358.0" width="29.700" height="212.9" fill="url(#bg)"/><rect x="2111.8" y="326" width="29.700" height="244.9" fill="url(#bg)"/><rect x="2223.6" y="326" width="29.700" height="244.9" fill="url(#bg)"/><rect x="2330" y="367.9" width="29.700" height="203.0" fill="url(#bg)"/><rect x="2443.9" y="367.9" width="29.700" height="203.0" fill="url(#bg)"/></svg>
<div class="t n" style="top:287.32px;font-size:16.1px;line-height:24.15px;color:#8f8f8f;right:824.80px;">1000</div>
<div class="t n" style="top:341.40px;font-size:16.1px;line-height:24.15px;color:#8f8f8f;right:824.80px;">800</div>
<div class="t n" style="top:395.48px;font-size:16.1px;line-height:24.15px;color:#8f8f8f;right:824.80px;">600</div>
<div class="t n" style="top:448.56px;font-size:16.1px;line-height:24.15px;color:#8f8f8f;right:824.80px;">400</div>
<div class="t n" style="top:502.65px;font-size:16.1px;line-height:24.15px;color:#8f8f8f;right:824.80px;">200</div>
<div class="t n" style="top:556.72px;font-size:16.1px;line-height:24.15px;color:#8f8f8f;right:824.80px;">0</div>
<div class="t n" style="top:585.75px;font-size:16.2px;line-height:24.3px;color:#8f8f8f;left:1619.30px;width:800px;text-align:center;">1月</div>
<div class="t n" style="top:585.75px;font-size:16.2px;line-height:24.3px;color:#8f8f8f;left:1727.80px;width:800px;text-align:center;">2月</div>
<div class="t n" style="top:585.75px;font-size:16.2px;line-height:24.3px;color:#8f8f8f;left:1837.30px;width:800px;text-align:center;">3月</div>
<div class="t n" style="top:585.75px;font-size:16.2px;line-height:24.3px;color:#8f8f8f;left:1946.30px;width:800px;text-align:center;">4月</div>
<div class="t n" style="top:585.75px;font-size:16.2px;line-height:24.3px;color:#8f8f8f;left:2055.70px;width:800px;text-align:center;">5月</div>
<div class="b" style="left:1884px;top:688.3px;width:668px;height:427.5px;background:#fff;border-radius:6.600px;box-shadow:0 1px 6px rgba(70,90,150,0.085);"></div>
<div class="b" style="left:1913px;top:727.0px;width:11.2px;height:17.6px;background:#55a3f8;"></div>
<div class="t" style="top:723.40px;font-size:17.4px;line-height:26.1px;color:#666;font-weight:700;letter-spacing:0.15px;left:1935.50px;">被访部门排名</div>
<div class="t n" style="top:723.17px;font-size:17.5px;line-height:26.25px;color:#999;letter-spacing:0.2px;left:2426.50px;">查看更多</div>
<div class="b" style="left:1911px;top:783px;width:614px;height:60px;background:#f2f2f2;"></div>
<div class="t" style="top:801.65px;font-size:17px;line-height:25.5px;color:#333;font-weight:700;letter-spacing:0.6px;left:1940.40px;">排名</div>
<div class="t" style="top:801.65px;font-size:17px;line-height:25.5px;color:#333;font-weight:700;letter-spacing:0.6px;left:2018.80px;">部门名称</div>
<div class="t" style="top:801.65px;font-size:17px;line-height:25.5px;color:#333;font-weight:700;letter-spacing:0.6px;right:426.00px;margin-right:-0.6px;">占比</div>
<div class="t" style="top:801.65px;font-size:17px;line-height:25.5px;color:#333;font-weight:700;letter-spacing:0.6px;right:291.00px;margin-right:-0.6px;">数量</div>
<svg class="b" style="left:1905px;top:838px" width="626" height="254" viewBox="1905 838 626 254"><defs><linearGradient id="og" x1="0" y1="1" x2="1" y2="0"><stop offset="0" stop-color="#ee9134"/><stop offset="1" stop-color="#f3a23d"/></linearGradient></defs><rect x="1911.5" y="843.4" width="613" height="60.5" fill="#fff"/><rect x="1911.5" y="903.9" width="613" height="60.6" fill="#f5f5f5"/><rect x="1911.5" y="964.5" width="613" height="60.9" fill="#fff"/><rect x="1911.5" y="1025.4" width="613" height="61.3" fill="#f5f5f5"/><path d="M1911 903.9H2525" stroke="#b4b4b4" stroke-width="1.1"/><path d="M1911 964.5H2525" stroke="#b4b4b4" stroke-width="1.1"/><path d="M1911 1025.4H2525" stroke="#b4b4b4" stroke-width="1.1"/><rect x="1911.1" y="843.4" width="613.4" height="243.3" fill="none" stroke="#999" stroke-width="1.1"/><rect x="1940" y="858.9" width="33.600" height="33.600" rx="6.500" fill="url(#og)"/><rect x="1940" y="919.4" width="33.600" height="33.600" rx="6.500" fill="url(#og)"/><rect x="1940" y="980.0" width="33.600" height="33.600" rx="6.500" fill="url(#og)"/><rect x="1940" y="1040.9" width="33.600" height="33.600" rx="6.500" fill="#468ef6"/></svg>
<div class="t" style="top:863.45px;font-size:17px;line-height:25.5px;color:#fff;font-weight:700;left:1556.80px;width:800px;text-align:center;">1</div>
<div class="t n" style="top:861.02px;font-size:17.3px;line-height:25.95px;color:#333;letter-spacing:0.3px;left:2018.70px;">运输部</div>
<div class="t n" style="top:859.82px;font-size:17.3px;line-height:25.95px;color:#333;right:426.30px;">50</div>
<div class="t n" style="top:859.82px;font-size:17.3px;line-height:25.95px;color:#333;right:291.40px;">1256</div>
<div class="t" style="top:923.95px;font-size:17px;line-height:25.5px;color:#fff;font-weight:700;left:1556.80px;width:800px;text-align:center;">2</div>
<div class="t n" style="top:919.52px;font-size:17.3px;line-height:25.95px;color:#333;letter-spacing:0.3px;left:2018.70px;">后勤部</div>
<div class="t n" style="top:920.32px;font-size:17.3px;line-height:25.95px;color:#333;right:426.30px;">21</div>
<div class="t n" style="top:920.32px;font-size:17.3px;line-height:25.95px;color:#333;right:291.40px;">628</div>
<div class="t" style="top:984.55px;font-size:17px;line-height:25.5px;color:#fff;font-weight:700;left:1556.80px;width:800px;text-align:center;">3</div>
<div class="t n" style="top:982.12px;font-size:17.3px;line-height:25.95px;color:#333;letter-spacing:0.3px;left:2018.70px;">安保部</div>
<div class="t n" style="top:980.92px;font-size:17.3px;line-height:25.95px;color:#333;right:426.30px;">19</div>
<div class="t n" style="top:980.92px;font-size:17.3px;line-height:25.95px;color:#333;right:291.40px;">489</div>
<div class="t" style="top:1045.45px;font-size:17px;line-height:25.5px;color:#fff;font-weight:700;left:1556.80px;width:800px;text-align:center;">4</div>
<div class="t n" style="top:1042.03px;font-size:17.3px;line-height:25.95px;color:#333;letter-spacing:0.3px;left:2018.70px;">门诊部</div>
<div class="t n" style="top:1041.83px;font-size:17.3px;line-height:25.95px;color:#333;right:426.30px;">10</div>
<div class="t n" style="top:1041.83px;font-size:17.3px;line-height:25.95px;color:#333;right:291.40px;">128</div>
<div class="b" style="left:473.4px;top:1181.2px;width:668px;height:440px;background:#fff;border-radius:6.600px;box-shadow:0 1px 6px rgba(70,90,150,0.085);"></div>
<div class="b" style="left:501.8px;top:1220.0px;width:11.2px;height:17.6px;background:#55a3f8;"></div>
<div class="t" style="top:1216.40px;font-size:17.4px;line-height:26.1px;color:#666;font-weight:700;letter-spacing:0.15px;left:524.80px;">按通行方式统计</div>
<svg class="b" style="left:742.5px;top:1207.1px" width="243.0" height="42.8" viewBox="-1 -1 243.0 42.8"><rect x="0.65" y="0.65" width="239.7" height="39.5" rx="5.55" fill="#fff" stroke="#8ec2fb" stroke-width="1.3"/><path d="M79.8 0V40.8M160.3 0V40.8" stroke="#8ec2fb" stroke-width="1.3"/></svg>
<div class="t n" style="top:1218.12px;font-size:15.7px;line-height:23.55px;color:#4a9bf6;letter-spacing:0.9px;left:383.60px;width:800px;text-align:center;text-indent:0.9px;">本周</div>
<div class="t n" style="top:1218.12px;font-size:15.7px;line-height:23.55px;color:#4a9bf6;letter-spacing:0.9px;left:463.55px;width:800px;text-align:center;text-indent:0.9px;">本月</div>
<div class="t n" style="top:1218.12px;font-size:15.7px;line-height:23.55px;color:#4a9bf6;letter-spacing:0.9px;left:544.15px;width:800px;text-align:center;text-indent:0.9px;">本年</div>
<div class="t n" style="top:1215.97px;font-size:17.5px;line-height:26.25px;color:#999;letter-spacing:0.2px;left:1015.50px;">查看更多</div>
<svg class="b" style="left:539px;top:1311.4px" width="300" height="300" viewBox="-150 -150 300 300"><path d="M0,0L-134.68,62.80A148.6,148.6 0 0 1 30.90,-145.35Z" fill="#488ff5" stroke="#488ff5" stroke-width="0.4"/><path d="M0,0L30.90,-145.35A148.6,148.6 0 0 1 90.26,-118.05Z" fill="#5cc68b" stroke="#5cc68b" stroke-width="0.4"/><path d="M0,0L90.26,-118.05A148.6,148.6 0 0 1 148.51,-5.19Z" fill="#7e68ec" stroke="#7e68ec" stroke-width="0.4"/><path d="M0,0L148.51,-5.19A148.6,148.6 0 0 1 71.36,130.34Z" fill="#f5c54e" stroke="#f5c54e" stroke-width="0.4"/><path d="M0,0L71.36,130.34A148.6,148.6 0 0 1 -134.68,62.80Z" fill="#ee7d66" stroke="#ee7d66" stroke-width="0.4"/><circle cx="-1.7" cy="-1.0" r="97.8" fill="#fff" fill-opacity="0.220"/><circle cx="-1.7" cy="-1.0" r="92.2" fill="#fff"/></svg>
<div class="t n" style="top:1423.73px;font-size:21.3px;line-height:31.95px;color:#999;letter-spacing:0.2px;left:286.00px;width:800px;text-align:center;">通行总记录</div>
<div class="t" style="top:1453.85px;font-size:39px;line-height:58.5px;color:#333;font-weight:700;left:285.70px;width:800px;text-align:center;">3830</div>
<svg class="b" style="left:870.0px;top:1340.0px" width="32" height="250" viewBox="870 1340 32 250"><circle cx="885.900" cy="1355.1" r="7.850" fill="#488ff5"/><circle cx="885.900" cy="1407.8" r="7.850" fill="#ee7d66"/><circle cx="885.900" cy="1461.5" r="7.850" fill="#f5c54e"/><circle cx="885.900" cy="1515.7" r="7.850" fill="#7e68ec"/><circle cx="885.900" cy="1569.8" r="7.850" fill="#66e4b3"/></svg>
<div class="t n" style="top:1341.10px;font-size:17.4px;line-height:26.1px;color:#333;letter-spacing:0.1px;left:904.60px;">人脸识别</div>
<div class="t" style="top:1342.20px;font-size:17.2px;line-height:25.8px;color:#333;font-weight:700;letter-spacing:-0.75px;left:1012.70px;">30%</div>
<div class="t n" style="top:1395.10px;font-size:17.4px;line-height:26.1px;color:#333;letter-spacing:0.1px;left:904.60px;">二维码</div>
<div class="t" style="top:1396.20px;font-size:17.2px;line-height:25.8px;color:#333;font-weight:700;letter-spacing:-0.75px;left:1012.70px;">25%</div>
<div class="t n" style="top:1447.50px;font-size:17.4px;line-height:26.1px;color:#333;letter-spacing:0.1px;left:904.60px;">刷卡</div>
<div class="t" style="top:1447.60px;font-size:17.2px;line-height:25.8px;color:#333;font-weight:700;letter-spacing:-0.75px;left:1012.70px;">15%</div>
<div class="t n" style="top:1503.00px;font-size:17.4px;line-height:26.1px;color:#333;letter-spacing:0.1px;left:904.60px;">指纹</div>
<div class="t" style="top:1504.10px;font-size:17.2px;line-height:25.8px;color:#333;font-weight:700;letter-spacing:-0.75px;left:1012.70px;">10%</div>
<div class="t n" style="top:1557.10px;font-size:17.4px;line-height:26.1px;color:#333;letter-spacing:0.1px;left:904.60px;">密码</div>
<div class="t" style="top:1558.20px;font-size:17.2px;line-height:25.8px;color:#333;font-weight:700;letter-spacing:-0.75px;left:1012.70px;">5%</div>
<div class="b" style="left:1161.8px;top:1172.8px;width:668px;height:440px;background:#fff;border-radius:6.600px;box-shadow:0 1px 6px rgba(70,90,150,0.085);"></div>
<div class="b" style="left:1190.5px;top:1211.9px;width:11.2px;height:17.6px;background:#55a3f8;"></div>
<div class="t" style="top:1208.30px;font-size:17.4px;line-height:26.1px;color:#666;font-weight:700;letter-spacing:0.15px;left:1213.00px;">按人员类型统计</div>
<svg class="b" style="left:1431px;top:1198.8px" width="243.0" height="42.8" viewBox="-1 -1 243.0 42.8"><rect x="0.65" y="0.65" width="239.7" height="39.5" rx="5.55" fill="#fff" stroke="#8ec2fb" stroke-width="1.3"/><path d="M79.8 0H6.2A6.2 6.2 0 0 0 0 6.2V34.599999999999994A6.2 6.2 0 0 0 6.2 40.8H79.8Z" fill="#57a3f8"/><path d="M79.8 0V40.8M160.3 0V40.8" stroke="#8ec2fb" stroke-width="1.3"/></svg>
<div class="t n" style="top:1209.83px;font-size:15.7px;line-height:23.55px;color:#fff;letter-spacing:0.9px;left:1072.10px;width:800px;text-align:center;text-indent:0.9px;">本周</div>
<div class="t n" style="top:1209.83px;font-size:15.7px;line-height:23.55px;color:#4a9bf6;letter-spacing:0.9px;left:1152.05px;width:800px;text-align:center;text-indent:0.9px;">本月</div>
<div class="t n" style="top:1209.83px;font-size:15.7px;line-height:23.55px;color:#4a9bf6;letter-spacing:0.9px;left:1232.65px;width:800px;text-align:center;text-indent:0.9px;">本年</div>
<div class="t n" style="top:1207.88px;font-size:17.5px;line-height:26.25px;color:#999;letter-spacing:0.2px;left:1704.00px;">查看更多</div>
<svg class="b" style="left:1227.3px;top:1303.4px" width="300" height="300" viewBox="-150 -150 300 300"><path d="M0,0L-134.68,62.80A148.6,148.6 0 0 1 30.90,-145.35Z" fill="#488ff5" stroke="#488ff5" stroke-width="0.4"/><path d="M0,0L30.90,-145.35A148.6,148.6 0 0 1 90.26,-118.05Z" fill="#5cc68b" stroke="#5cc68b" stroke-width="0.4"/><path d="M0,0L90.26,-118.05A148.6,148.6 0 0 1 148.51,-5.19Z" fill="#7e68ec" stroke="#7e68ec" stroke-width="0.4"/><path d="M0,0L148.51,-5.19A148.6,148.6 0 0 1 71.36,130.34Z" fill="#f5c54e" stroke="#f5c54e" stroke-width="0.4"/><path d="M0,0L71.36,130.34A148.6,148.6 0 0 1 -134.68,62.80Z" fill="#ee7d66" stroke="#ee7d66" stroke-width="0.4"/><circle cx="-1.7" cy="-1.0" r="97.8" fill="#fff" fill-opacity="0.220"/><circle cx="-1.7" cy="-1.0" r="92.2" fill="#fff"/></svg>
<div class="t n" style="top:1415.73px;font-size:21.3px;line-height:31.95px;color:#999;letter-spacing:0.2px;left:974.30px;width:800px;text-align:center;">销售总额</div>
<div class="t" style="top:1445.85px;font-size:39px;line-height:58.5px;color:#333;font-weight:700;left:974.00px;width:800px;text-align:center;">715,400</div>
<svg class="b" style="left:1558.4px;top:1331.9px" width="32" height="250" viewBox="870 1340 32 250"><circle cx="885.900" cy="1355.1" r="7.850" fill="#488ff5"/><circle cx="885.900" cy="1407.8" r="7.850" fill="#ee7d66"/><circle cx="885.900" cy="1461.5" r="7.850" fill="#f5c54e"/><circle cx="885.900" cy="1515.7" r="7.850" fill="#7e68ec"/><circle cx="885.900" cy="1569.8" r="7.850" fill="#66e4b3"/></svg>
<div class="t n" style="top:1333.00px;font-size:17.4px;line-height:26.1px;color:#333;letter-spacing:0.1px;left:1593.00px;">内部员工</div>
<div class="t" style="top:1334.10px;font-size:17.2px;line-height:25.8px;color:#333;font-weight:700;letter-spacing:-0.75px;left:1701.10px;">30%</div>
<div class="t n" style="top:1387.00px;font-size:17.4px;line-height:26.1px;color:#333;letter-spacing:0.1px;left:1593.00px;">访客人员</div>
<div class="t" style="top:1388.10px;font-size:17.2px;line-height:25.8px;color:#333;font-weight:700;letter-spacing:-0.75px;left:1701.10px;">25%</div>
<div class="t n" style="top:1439.40px;font-size:17.4px;line-height:26.1px;color:#333;letter-spacing:0.1px;left:1593.00px;">类型三</div>
<div class="t" style="top:1439.50px;font-size:17.2px;line-height:25.8px;color:#333;font-weight:700;letter-spacing:-0.75px;left:1701.10px;">15%</div>
<div class="t n" style="top:1494.90px;font-size:17.4px;line-height:26.1px;color:#333;letter-spacing:0.1px;left:1593.00px;">类型四</div>
<div class="t" style="top:1496.00px;font-size:17.2px;line-height:25.8px;color:#333;font-weight:700;letter-spacing:-0.75px;left:1701.10px;">10%</div>
<div class="t n" style="top:1549.00px;font-size:17.4px;line-height:26.1px;color:#333;letter-spacing:0.1px;left:1593.00px;">类型五</div>
<div class="t" style="top:1550.10px;font-size:17.2px;line-height:25.8px;color:#333;font-weight:700;letter-spacing:-0.75px;left:1701.10px;">5%</div>
<div class="b" style="left:1883.7px;top:1172.8px;width:668.5px;height:440px;background:#fff;border-radius:6.600px;box-shadow:0 1px 6px rgba(70,90,150,0.085);"></div>
<div class="b" style="left:1912.7px;top:1211.9px;width:11.2px;height:17.6px;background:#55a3f8;"></div>
<div class="t" style="top:1208.30px;font-size:17.4px;line-height:26.1px;color:#666;font-weight:700;letter-spacing:0.15px;left:1935.20px;">到访时段统计</div>
<svg class="b" style="left:2153.5px;top:1198.8px" width="243.0" height="42.8" viewBox="-1 -1 243.0 42.8"><rect x="0.65" y="0.65" width="239.7" height="39.5" rx="5.55" fill="#fff" stroke="#8ec2fb" stroke-width="1.3"/><path d="M79.8 0H6.2A6.2 6.2 0 0 0 0 6.2V34.599999999999994A6.2 6.2 0 0 0 6.2 40.8H79.8Z" fill="#57a3f8"/><path d="M79.8 0V40.8M160.3 0V40.8" stroke="#8ec2fb" stroke-width="1.3"/></svg>
<div class="t n" style="top:1208.83px;font-size:15.7px;line-height:23.55px;color:#fff;letter-spacing:0.9px;left:1794.60px;width:800px;text-align:center;text-indent:0.9px;">本周</div>
<div class="t n" style="top:1208.83px;font-size:15.7px;line-height:23.55px;color:#4a9bf6;letter-spacing:0.9px;left:1874.55px;width:800px;text-align:center;text-indent:0.9px;">本月</div>
<div class="t n" style="top:1208.83px;font-size:15.7px;line-height:23.55px;color:#4a9bf6;letter-spacing:0.9px;left:1955.15px;width:800px;text-align:center;text-indent:0.9px;">本年</div>
<div class="t n" style="top:1207.88px;font-size:17.5px;line-height:26.25px;color:#999;letter-spacing:0.2px;left:2426.00px;">查看更多</div>
<svg class="b" style="left:1884px;top:1173px" width="668" height="431" viewBox="1884 1173 668 431"><path d="M1971.700 1293.50H2517.400" stroke="#e9e9e9" stroke-width="1.400"/><path d="M1971.700 1347.45H2517.400" stroke="#e9e9e9" stroke-width="1.400"/><path d="M1971.700 1401.40H2517.400" stroke="#e9e9e9" stroke-width="1.400"/><path d="M1971.700 1455.35H2517.400" stroke="#e9e9e9" stroke-width="1.400"/><path d="M1971.700 1509.30H2517.400" stroke="#e9e9e9" stroke-width="1.400"/><path d="M1971.700 1563.25H2517.400" stroke="#e9e9e9" stroke-width="1.400"/><path d="M1970.2,1514.7C1970.8,1511.9 1972.2,1503.5 1973.5,1497.8C1974.8,1492.1 1976.6,1485.7 1978.1,1480.8C1979.6,1475.9 1980.9,1472.0 1982.6,1468.4C1984.3,1464.8 1986.3,1461.7 1988.2,1459.4C1990.1,1457.2 1991.3,1456.0 1993.8,1454.9C1996.2,1453.8 1999.9,1452.8 2002.9,1452.8C2005.9,1452.8 2008.9,1453.6 2011.9,1454.9C2014.9,1456.2 2018.3,1458.2 2020.9,1460.5C2023.5,1462.8 2025.4,1465.8 2027.7,1468.4C2030.0,1471.0 2032.2,1473.9 2034.5,1476.3C2036.8,1478.7 2039.0,1481.2 2041.2,1482.6C2043.5,1484.0 2045.9,1484.8 2048.0,1484.9C2050.1,1485.0 2051.9,1484.3 2053.6,1483.1C2055.3,1481.8 2057.1,1479.7 2058.2,1477.4C2059.3,1475.1 2059.7,1473.4 2060.4,1469.5C2061.2,1465.6 2061.8,1458.7 2062.7,1453.8C2063.6,1448.9 2064.8,1444.2 2066.1,1440.2C2067.4,1436.2 2068.7,1433.3 2070.6,1430.1C2072.5,1426.9 2074.7,1423.9 2077.3,1421.0C2079.9,1418.1 2083.0,1415.3 2086.4,1412.5C2089.8,1409.7 2093.8,1406.4 2097.6,1404.1C2101.3,1401.8 2105.5,1400.1 2108.9,1398.9C2112.3,1397.7 2115.0,1397.2 2118.0,1396.7C2121.0,1396.2 2123.2,1395.9 2127.0,1396.0C2130.8,1396.1 2136.0,1396.4 2140.5,1397.3C2145.0,1398.2 2148.4,1399.2 2154.1,1401.2C2159.8,1403.2 2167.3,1406.4 2174.4,1409.1C2181.5,1411.8 2190.1,1415.2 2196.9,1417.6C2203.7,1420.0 2210.1,1422.3 2215.0,1423.7C2219.9,1425.1 2222.9,1425.5 2226.3,1426.0C2229.7,1426.5 2231.9,1426.7 2235.3,1426.7C2238.7,1426.7 2242.8,1426.6 2246.6,1426.0C2250.4,1425.4 2253.8,1424.8 2257.9,1423.3C2262.0,1421.8 2266.9,1419.7 2271.4,1417.2C2275.9,1414.7 2280.8,1411.5 2284.9,1408.2C2289.0,1404.9 2292.8,1401.5 2296.2,1397.3C2299.6,1393.0 2302.6,1387.6 2305.2,1382.7C2307.8,1377.8 2309.7,1373.5 2312.0,1368.0C2314.3,1362.5 2316.5,1355.2 2318.8,1349.9C2321.1,1344.6 2323.0,1340.2 2325.6,1336.4C2328.2,1332.6 2331.6,1329.2 2334.6,1326.9C2337.6,1324.7 2340.2,1323.9 2343.6,1322.9C2347.0,1321.9 2351.1,1321.0 2354.9,1320.8C2358.7,1320.6 2362.4,1321.0 2366.2,1322.0C2370.0,1323.0 2373.8,1324.7 2377.5,1326.7C2381.2,1328.7 2384.9,1331.3 2388.7,1334.2C2392.4,1337.1 2396.6,1340.7 2400.0,1344.3C2403.4,1347.9 2406.0,1351.5 2409.0,1355.6C2412.0,1359.7 2415.5,1365.7 2418.1,1369.1C2420.7,1372.5 2422.2,1374.0 2424.8,1375.9C2427.4,1377.8 2430.5,1379.3 2433.9,1380.4C2437.3,1381.5 2441.8,1382.4 2445.2,1382.7C2448.6,1383.0 2451.2,1382.8 2454.2,1382.0C2457.2,1381.2 2459.8,1380.2 2463.2,1378.2C2466.6,1376.2 2470.4,1373.7 2474.5,1370.3C2478.6,1366.9 2483.5,1362.4 2488.0,1357.9C2492.5,1353.4 2496.7,1348.9 2501.6,1343.2C2506.5,1337.5 2514.8,1327.2 2517.4,1324.0L2516.400,1324L2516.400,1563.200L1970.200,1563.200Z" fill="#ee9233" fill-opacity="0.280"/><path d="M1970.2,1514.7C1970.8,1511.9 1972.2,1503.5 1973.5,1497.8C1974.8,1492.1 1976.6,1485.7 1978.1,1480.8C1979.6,1475.9 1980.9,1472.0 1982.6,1468.4C1984.3,1464.8 1986.3,1461.7 1988.2,1459.4C1990.1,1457.2 1991.3,1456.0 1993.8,1454.9C1996.2,1453.8 1999.9,1452.8 2002.9,1452.8C2005.9,1452.8 2008.9,1453.6 2011.9,1454.9C2014.9,1456.2 2018.3,1458.2 2020.9,1460.5C2023.5,1462.8 2025.4,1465.8 2027.7,1468.4C2030.0,1471.0 2032.2,1473.9 2034.5,1476.3C2036.8,1478.7 2039.0,1481.2 2041.2,1482.6C2043.5,1484.0 2045.9,1484.8 2048.0,1484.9C2050.1,1485.0 2051.9,1484.3 2053.6,1483.1C2055.3,1481.8 2057.1,1479.7 2058.2,1477.4C2059.3,1475.1 2059.7,1473.4 2060.4,1469.5C2061.2,1465.6 2061.8,1458.7 2062.7,1453.8C2063.6,1448.9 2064.8,1444.2 2066.1,1440.2C2067.4,1436.2 2068.7,1433.3 2070.6,1430.1C2072.5,1426.9 2074.7,1423.9 2077.3,1421.0C2079.9,1418.1 2083.0,1415.3 2086.4,1412.5C2089.8,1409.7 2093.8,1406.4 2097.6,1404.1C2101.3,1401.8 2105.5,1400.1 2108.9,1398.9C2112.3,1397.7 2115.0,1397.2 2118.0,1396.7C2121.0,1396.2 2123.2,1395.9 2127.0,1396.0C2130.8,1396.1 2136.0,1396.4 2140.5,1397.3C2145.0,1398.2 2148.4,1399.2 2154.1,1401.2C2159.8,1403.2 2167.3,1406.4 2174.4,1409.1C2181.5,1411.8 2190.1,1415.2 2196.9,1417.6C2203.7,1420.0 2210.1,1422.3 2215.0,1423.7C2219.9,1425.1 2222.9,1425.5 2226.3,1426.0C2229.7,1426.5 2231.9,1426.7 2235.3,1426.7C2238.7,1426.7 2242.8,1426.6 2246.6,1426.0C2250.4,1425.4 2253.8,1424.8 2257.9,1423.3C2262.0,1421.8 2266.9,1419.7 2271.4,1417.2C2275.9,1414.7 2280.8,1411.5 2284.9,1408.2C2289.0,1404.9 2292.8,1401.5 2296.2,1397.3C2299.6,1393.0 2302.6,1387.6 2305.2,1382.7C2307.8,1377.8 2309.7,1373.5 2312.0,1368.0C2314.3,1362.5 2316.5,1355.2 2318.8,1349.9C2321.1,1344.6 2323.0,1340.2 2325.6,1336.4C2328.2,1332.6 2331.6,1329.2 2334.6,1326.9C2337.6,1324.7 2340.2,1323.9 2343.6,1322.9C2347.0,1321.9 2351.1,1321.0 2354.9,1320.8C2358.7,1320.6 2362.4,1321.0 2366.2,1322.0C2370.0,1323.0 2373.8,1324.7 2377.5,1326.7C2381.2,1328.7 2384.9,1331.3 2388.7,1334.2C2392.4,1337.1 2396.6,1340.7 2400.0,1344.3C2403.4,1347.9 2406.0,1351.5 2409.0,1355.6C2412.0,1359.7 2415.5,1365.7 2418.1,1369.1C2420.7,1372.5 2422.2,1374.0 2424.8,1375.9C2427.4,1377.8 2430.5,1379.3 2433.9,1380.4C2437.3,1381.5 2441.8,1382.4 2445.2,1382.7C2448.6,1383.0 2451.2,1382.8 2454.2,1382.0C2457.2,1381.2 2459.8,1380.2 2463.2,1378.2C2466.6,1376.2 2470.4,1373.7 2474.5,1370.3C2478.6,1366.9 2483.5,1362.4 2488.0,1357.9C2492.5,1353.4 2496.7,1348.9 2501.6,1343.2C2506.5,1337.5 2514.8,1327.2 2517.4,1324.0" fill="none" stroke="#ee9233" stroke-width="2.600" stroke-linejoin="round"/></svg>
<div class="t n" style="top:1280.72px;font-size:16.1px;line-height:24.15px;color:#8f8f8f;right:825.00px;">5000</div>
<div class="t n" style="top:1334.67px;font-size:16.1px;line-height:24.15px;color:#8f8f8f;right:825.00px;">4000</div>
<div class="t n" style="top:1388.62px;font-size:16.1px;line-height:24.15px;color:#8f8f8f;right:825.00px;">3000</div>
<div class="t n" style="top:1442.58px;font-size:16.1px;line-height:24.15px;color:#8f8f8f;right:825.00px;">2000</div>
<div class="t n" style="top:1496.52px;font-size:16.1px;line-height:24.15px;color:#8f8f8f;right:825.00px;">1000</div>
<div class="t n" style="top:1551.47px;font-size:16.1px;line-height:24.15px;color:#8f8f8f;right:825.00px;">0</div>
<div class="t n" style="top:1579.65px;font-size:16.2px;line-height:24.3px;color:#8f8f8f;left:1603.20px;width:800px;text-align:center;">周一</div>
<div class="t n" style="top:1579.65px;font-size:16.2px;line-height:24.3px;color:#8f8f8f;left:1681.45px;width:800px;text-align:center;">周二</div>
<div class="t n" style="top:1579.65px;font-size:16.2px;line-height:24.3px;color:#8f8f8f;left:1759.70px;width:800px;text-align:center;">周三</div>
<div class="t n" style="top:1579.65px;font-size:16.2px;line-height:24.3px;color:#8f8f8f;left:1837.95px;width:800px;text-align:center;">周四</div>
<div class="t n" style="top:1579.65px;font-size:16.2px;line-height:24.3px;color:#8f8f8f;left:1916.20px;width:800px;text-align:center;">周五</div>
<div class="t n" style="top:1580.65px;font-size:16.2px;line-height:24.3px;color:#8f8f8f;left:1994.45px;width:800px;text-align:center;">周六</div>
<div class="t n" style="top:1579.65px;font-size:16.2px;line-height:24.3px;color:#8f8f8f;left:2072.70px;width:800px;text-align:center;">周日</div>
</body></html>
